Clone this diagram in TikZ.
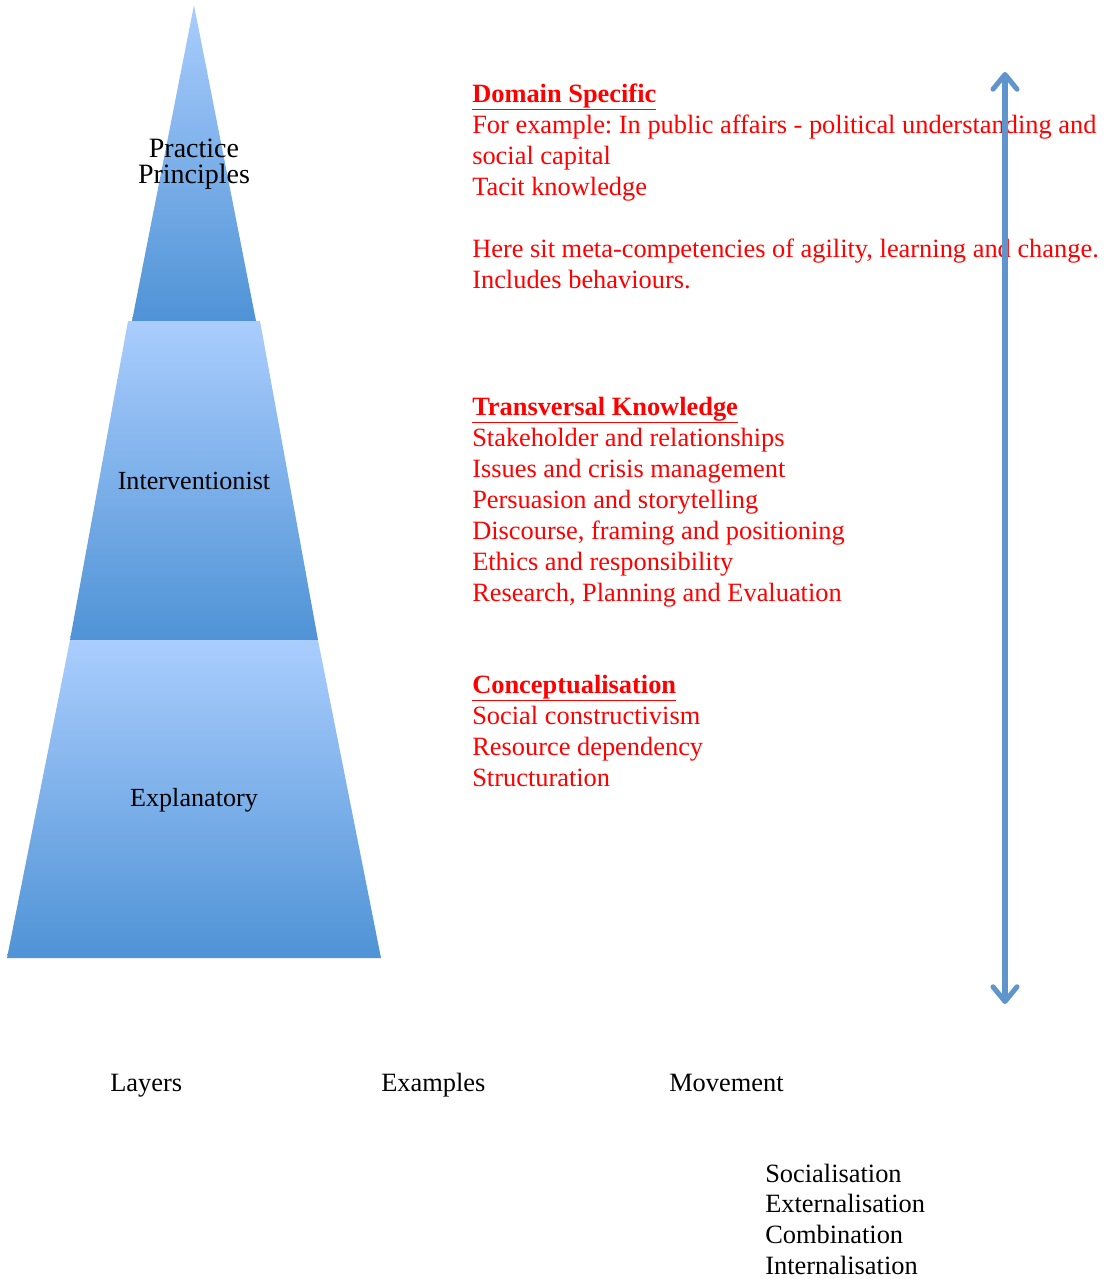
\documentclass[tikz,border=0pt]{standalone}
\usepackage{fontspec}
\setmainfont{Liberation Serif}
\usetikzlibrary{arrows.meta}
\frenchspacing
\definecolor{redtxt}{RGB}{255,0,0}
\definecolor{pylight}{RGB}{170,205,253}
\definecolor{pydark}{RGB}{79,147,214}
\definecolor{arrowblue}{RGB}{96,148,205}
\begin{document}
\begin{tikzpicture}[x=0.75pt,y=-0.75pt,
  redtext/.style={anchor=base west, inner sep=0pt, text=redtxt, font=\fontsize{19.8}{23.25}\selectfont, align=left},
  plaintext/.style={anchor=base west, inner sep=0pt, font=\fontsize{19.8}{23}\selectfont, align=left},
  layer/.style={top color=pylight, bottom color=pydark, draw=none},
  laylabel/.style={inner sep=0pt, font=\fontsize{19.6}{19.5}\selectfont, align=center},
  movearrow/.style={draw=arrowblue, line width=3.8pt, line cap=round, line join=round,
     {Straight Barb[length=11pt, width=18pt, line cap=round, line join=round]}-{Straight Barb[length=11pt, width=18pt, line cap=round, line join=round]}}]
\useasboundingbox (0,0) rectangle (1108,1279);

% pyramid layers
\shade[layer] (194,5) -- (256,321) -- (132,321) -- cycle;
\shade[layer] (128,321) -- (260,321) -- (318,640) -- (70,640) -- cycle;
\shade[layer] (70,640) -- (318,640) -- (381,958) -- (7,958) -- cycle;

\node[laylabel, font=\fontsize{21}{19.5}\selectfont] (pp) at (194,164) {Practice\\Principles};
\node[laylabel] (iv) at (194,481) {Interventionist};
\node[laylabel] (ex) at (194,800) {Explanatory};

% examples (anchored at the baseline of the last line)
\node[redtext] (ds) at (472,288) {\underline{\textbf{Domain Specific}}\\
For example: In public affairs - political understanding and\\
social capital\\
Tacit knowledge\\[23.25pt]
Here sit meta-competencies of agility, learning and change.\\
Includes behaviours.};

\node[redtext] (tk) at (472,601) {\underline{\textbf{Transversal Knowledge}}\\
Stakeholder and relationships\\
Issues and crisis management\\
Persuasion and storytelling\\
Discourse, framing and positioning\\
Ethics and responsibility\\
Research, Planning and Evaluation};

\node[redtext] (co) at (472,786) {\underline{\textbf{Conceptualisation}}\\
Social constructivism\\
Resource dependency\\
Structuration};

% movement arrow
\coordinate (top) at (1005,72);
\coordinate (bot) at (1005,1004);
\draw[movearrow] (bot) -- (top);

% bottom labels
\node[plaintext] (la) at (110,1091) {Layers};
\node[plaintext] (exl) at (381,1091) {Examples};
\node[plaintext] (mv) at (669,1091) {Movement};
\node[plaintext] (seci) at (765,1274) {Socialisation\\Externalisation\\Combination\\Internalisation};
\end{tikzpicture}
\end{document}
